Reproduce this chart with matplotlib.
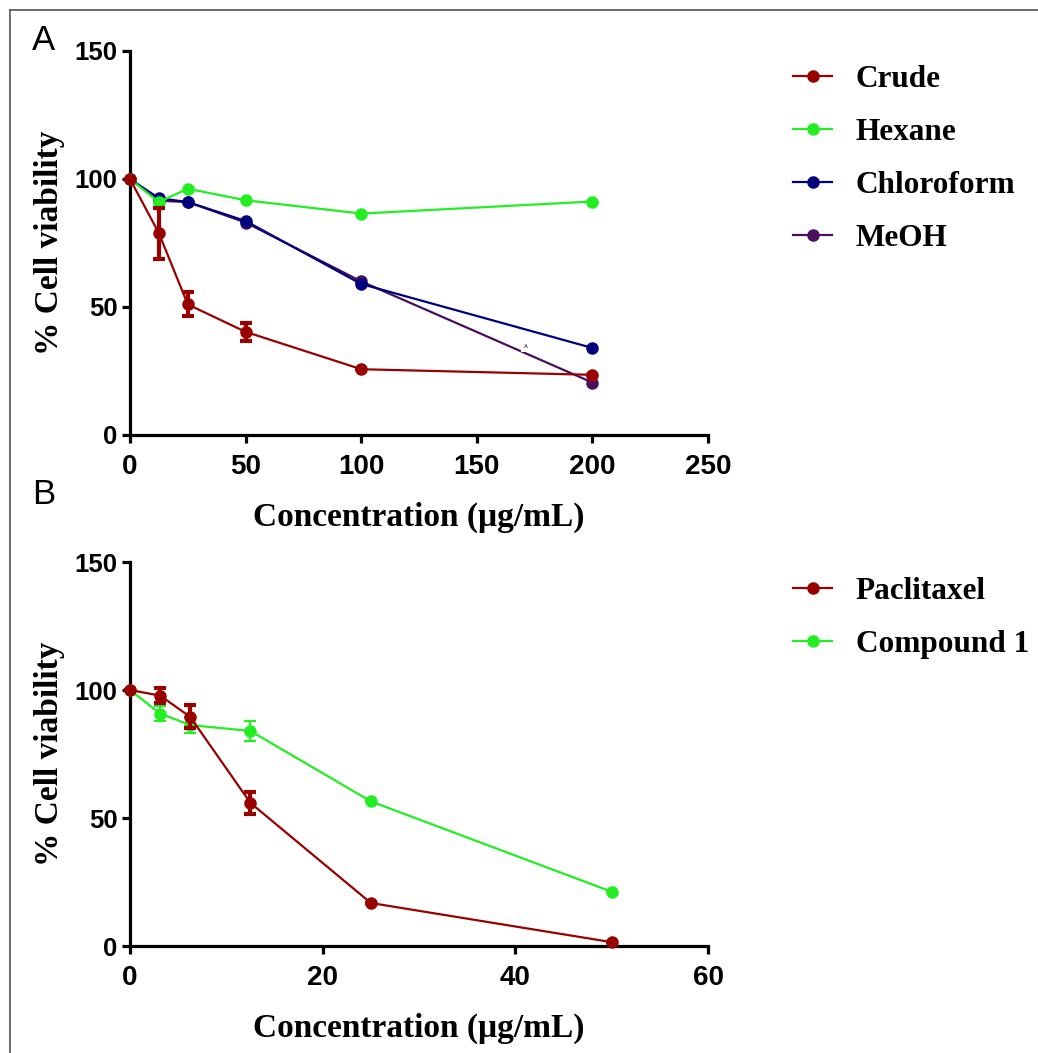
import matplotlib.pyplot as plt
from matplotlib.lines import Line2D

# --- Panel A : extracts ---
conc_a = [0, 12.5, 25, 50, 100, 200]
crude = [100, 78.8, 51.0, 40.3, 25.7, 23.5]
crude_err = [0, 10.0, 4.7, 3.5, 0, 0]
hexane = [100, 91.0, 96.2, 91.7, 86.5, 91.2]
chloroform = [100, 92.5, 91.0, 83.6, 59.0, 34.0]
meoh = [100, 91.5, 91.0, 83.0, 60.0, 20.5]
labels_a = ["Crude", "Hexane", "Chloroform", "MeOH"]

# --- Panel B : paclitaxel vs compound 1 ---
conc_b = [0, 3.125, 6.25, 12.5, 25, 50]
paclitaxel = [100, 97.8, 89.5, 55.9, 16.8, 1.5]
paclitaxel_err = [0, 3.0, 4.5, 4.2, 0, 0]
compound1 = [100, 90.8, 86.3, 84.0, 56.5, 21.2]
compound1_err = [0, 3.0, 3.0, 4.0, 0, 0]
labels_b = ["Paclitaxel", "Compound 1"]

RED = "#990000"
GREEN = "#22EE22"
NAVY = "#00007F"
PURPLE = "#4A0E5C"

W, H = 1038, 1053
fig = plt.figure(figsize=(W / 100, H / 100), dpi=100)

SERIF = "Liberation Serif"
SANS = "Liberation Sans"
SERIF_SIZE = 24
LEG_SIZE = 22.5


def px(x0, y0, x1, y1):
    # pixel box -> figure fraction rect
    return [x0 / W, 1 - y1 / H, (x1 - x0) / W, (y1 - y0) / H]


def style_axes(ax, xmax, xticks):
    ax.set_xlim(0, xmax)
    ax.set_ylim(0, 150)
    ax.set_xticks(xticks)
    ax.set_yticks([0, 50, 100, 150])
    for s in ["top", "right"]:
        ax.spines[s].set_visible(False)
    for s in ["left", "bottom"]:
        ax.spines[s].set_linewidth(2.3)
    ax.tick_params(direction="out", length=6, width=2.3)
    ax.tick_params(axis="y", pad=3)
    ax.tick_params(axis="x", pad=8)
    for lab in ax.get_yticklabels():
        lab.set_fontfamily(SANS)
        lab.set_fontweight("bold")
        lab.set_fontsize(18.5)
    for lab in ax.get_xticklabels():
        lab.set_fontfamily(SANS)
        lab.set_fontweight("bold")
        lab.set_fontsize(20)
    ax.set_xlabel("Concentration (μg/mL)", fontfamily=SERIF, fontweight="bold",
                  fontsize=SERIF_SIZE, labelpad=15)
    ax.set_ylabel("% Cell viability", fontfamily=SERIF, fontweight="bold",
                  fontsize=SERIF_SIZE, labelpad=7)


def series(ax, x, y, color, err=None, elw=3):
    ax.plot(x, y, color=color, lw=1.6, marker="o", ms=8, clip_on=False, zorder=3)
    if err is not None:
        ax.errorbar(x, y, yerr=err, fmt="none", ecolor=color, elinewidth=elw,
                    capsize=4.5, capthick=elw, clip_on=False, zorder=3)


def add_legend(handles, labels, top_px):
    fig.legend(handles, labels, loc="upper left",
               bbox_to_anchor=(793 / W, 1 - top_px / H), frameon=False,
               prop=dict(family=SERIF, weight="bold", size=LEG_SIZE),
               handlelength=1.25, handletextpad=0.75, labelspacing=0.77,
               borderaxespad=0, borderpad=0)


# ---------- Panel A ----------
axa = fig.add_axes(px(130, 51, 708, 435))
series(axa, conc_a, meoh, PURPLE)
series(axa, conc_a, chloroform, NAVY)
series(axa, conc_a, hexane, GREEN)
series(axa, conc_a, crude, RED, crude_err)
style_axes(axa, 250, [0, 50, 100, 150, 200, 250])
axa.text(171, 34.4, "A", fontsize=4, ha="center", va="center", zorder=4,
         bbox=dict(facecolor="white", edgecolor="none", pad=1.5))

handles_a = [Line2D([], [], color=c, lw=1.6, marker="o", ms=8)
             for c in [RED, GREEN, NAVY, PURPLE]]
add_legend(handles_a, labels_a, 65)

# ---------- Panel B ----------
axb = fig.add_axes(px(130, 562, 708, 946))
series(axb, conc_b, compound1, GREEN, compound1_err, elw=1.6)
series(axb, conc_b, paclitaxel, RED, paclitaxel_err)
style_axes(axb, 60, [0, 20, 40, 60])

handles_b = [Line2D([], [], color=c, lw=1.6, marker="o", ms=8)
             for c in [RED, GREEN]]
add_legend(handles_b, labels_b, 577)

# panel letters
fig.text(32 / W, 1 - 41 / H, "A", fontfamily=SANS, fontsize=25, va="center")
fig.text(32 / W, 1 - 494 / H, "B", fontfamily=SANS, fontsize=25, va="center")

# frame (only top and left edges visible)
fig.add_artist(Line2D([10 / W, 1], [1 - 10 / H, 1 - 10 / H], color="#555555", lw=1.2))
fig.add_artist(Line2D([10 / W, 10 / W], [0, 1 - 10 / H], color="#555555", lw=1.2))

fig.savefig("out.png", dpi=100, facecolor="white")
